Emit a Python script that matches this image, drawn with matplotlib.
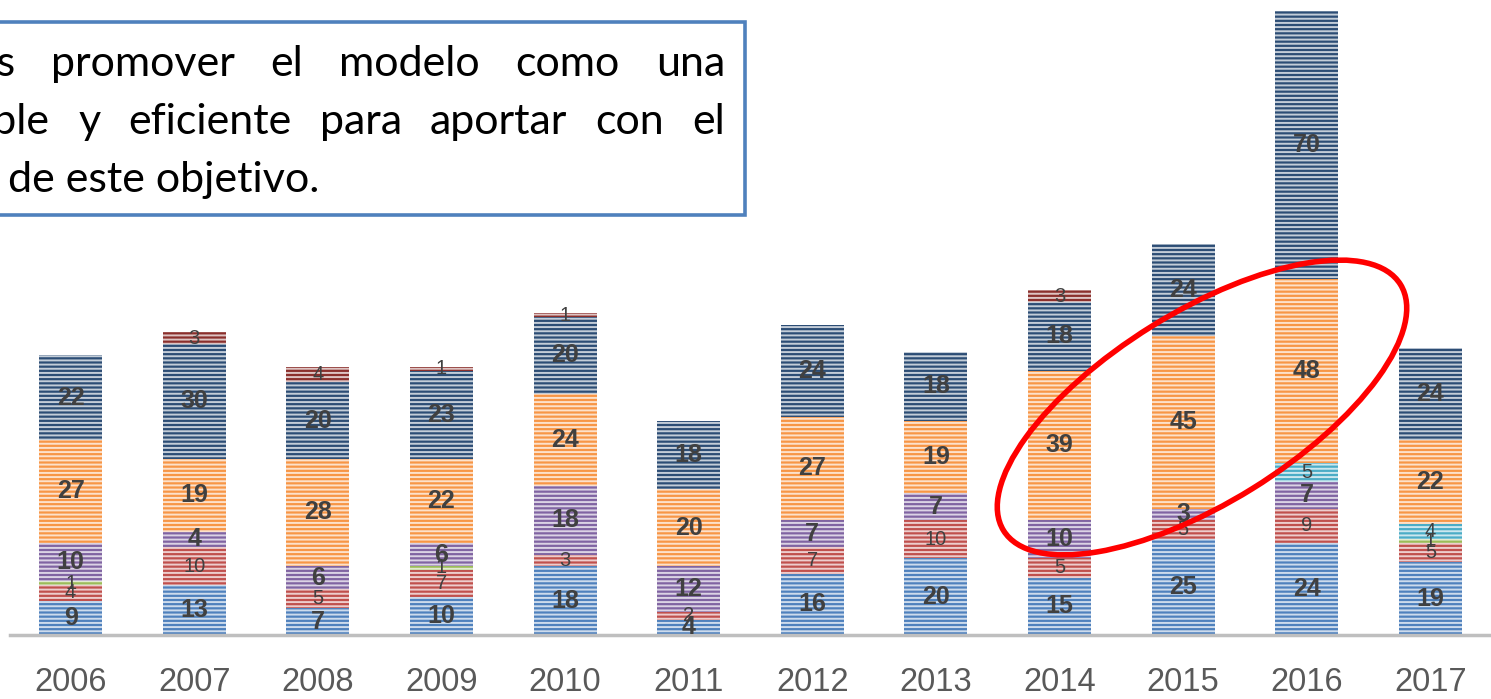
# stacked bars per year with callout box and highlight ellipse -> out.png
import matplotlib
matplotlib.use("Agg")
import matplotlib.pyplot as plt
from matplotlib.patches import Ellipse, Rectangle
from matplotlib.transforms import IdentityTransform

years = ["2006", "2007", "2008", "2009", "2010", "2011",
         "2012", "2013", "2014", "2015", "2016", "2017"]

# series, bottom to top
azul = [9, 13, 7, 10, 18, 4, 16, 20, 15, 25, 24, 19]
rojo = [4, 10, 5, 7, 3, 2, 7, 10, 5, 5, 9, 5]
verde = [1, 0, 0, 1, 0, 0, 0, 0, 0, 0, 0, 1]
morado = [10, 4, 6, 6, 18, 12, 7, 7, 10, 3, 7, 0]
celeste = [0, 0, 0, 0, 0, 0, 0, 0, 0, 0, 5, 4]
naranjo = [27, 19, 28, 22, 24, 20, 27, 19, 39, 45, 48, 22]
azul_osc = [22, 30, 20, 23, 20, 18, 24, 18, 18, 24, 70, 24]
rojo_osc = [0, 3, 4, 1, 1, 0, 0, 0, 3, 0, 0, 0]

series = [
    (azul, "#4F81BD", True),
    (rojo, "#C0504D", False),
    (verde, "#9BBB59", False),
    (morado, "#8064A2", True),
    (celeste, "#4BACC6", False),
    (naranjo, "#F79646", True),
    (azul_osc, "#2C4D75", True),
    (rojo_osc, "#8B2F2C", False),
]

FONT = ["Liberation Sans", "DejaVu Sans"]
plt.rcParams["hatch.linewidth"] = 1.4

W, H = 1491, 699
fig = plt.figure(figsize=(W / 100, H / 100), dpi=100)
ax = fig.add_axes([10 / W, 64 / H, 1 - 10 / W, 1 - 64 / H])

x = list(range(len(years)))
bottom = [0] * len(years)
for vals, color, bold in series:
    bars = ax.bar(x, vals, 0.51, bottom=bottom, color=color,
                  edgecolor=(1, 1, 1, 0.72), hatch="----", linewidth=0)
    ax.bar_label(bars, labels=[str(v) if v else "" for v in vals],
                 label_type="center", color="#404040",
                 fontsize=18 if bold else 14.5,
                 fontweight="bold" if bold else "normal", family=FONT)
    bottom = [b + v for b, v in zip(bottom, vals)]

ax.set_xlim(-0.49, 11.49)
ax.set_ylim(0, 165.8)
ax.set_yticks([])
ax.set_xticks(x, years)
ax.tick_params(axis="x", length=0, pad=23, labelsize=23.5, labelcolor="#595959")
for lab in ax.get_xticklabels():
    lab.set_family(FONT)
for s in ["top", "left", "right"]:
    ax.spines[s].set_visible(False)
ax.spines["bottom"].set_color("#BFBFBF")
ax.spines["bottom"].set_linewidth(2.5)

# highlight ellipse (pixel coords)
fig.add_artist(Ellipse((1202, H - 407.5), 467, 191, angle=31.8, fill=False,
                       ec="#FF0000", lw=4, transform=IdentityTransform(),
                       zorder=6))

# callout box, text cut at the left edge like the source slide
fig.add_artist(Rectangle((-10, H - 215), 755, 193, fc="white", ec="#4F81BD",
                         lw=2.6, transform=IdentityTransform(), zorder=7))

renderer = fig.canvas.get_renderer()
box_font = dict(family="Lato", fontsize=31, color="black", zorder=8,
                va="center", transform=IdentityTransform())


def justify(words, y, first_right, x1):
    texts = [fig.text(0, H - y, w, **box_font) for w in words]
    widths = [t.get_window_extent(renderer).width for t in texts]
    x0 = first_right - widths[0]
    gap = (x1 - x0 - sum(widths)) / (len(words) - 1)
    pos = x0
    for t, w in zip(texts, widths):
        t.set_x(pos)
        pos += w + gap


justify(["es", "promover", "el", "modelo", "como", "una"], 64, 15, 725)
justify(["able", "y", "eficiente", "para", "aportar", "con", "el"], 122, 50, 725)
fig.text(8, H - 180, "de este objetivo.", **box_font)

fig.savefig("out.png", dpi=100)
